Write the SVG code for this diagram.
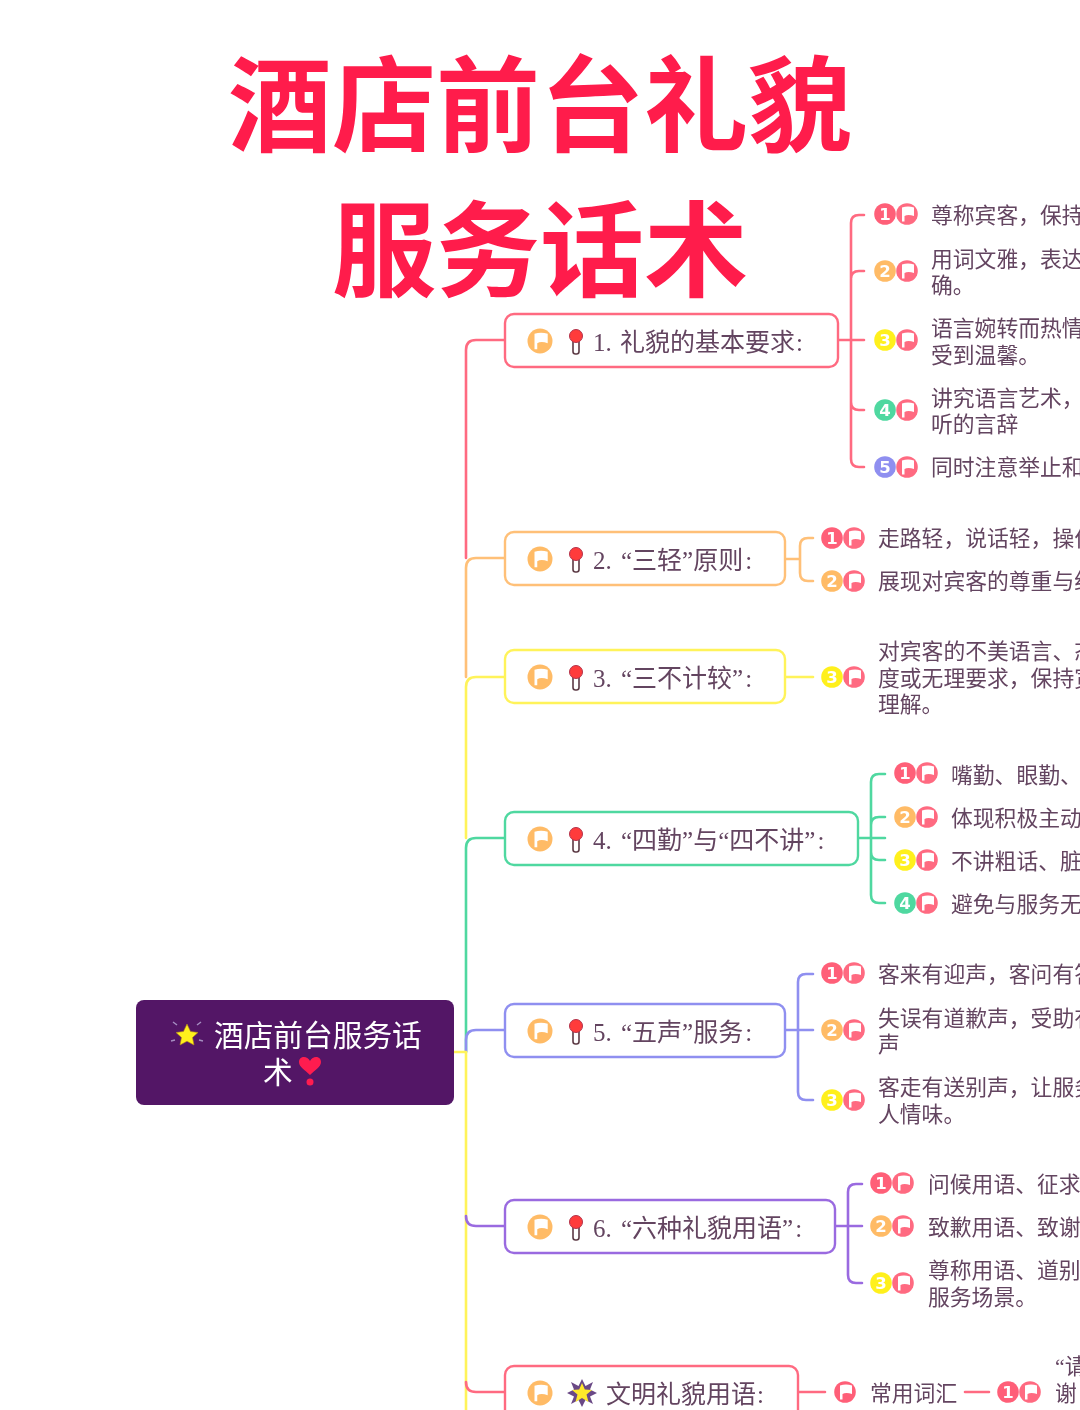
<svg xmlns="http://www.w3.org/2000/svg" width="1080" height="1410" viewBox="0 0 1080 1410">
<style>
text{font-family:"Noto Sans CJK SC","Noto Sans",sans-serif}
.title{font-size:104px;font-weight:700;fill:#ff1a4b;text-anchor:middle}
.node{fill:#fff;stroke-width:2.4}
.lab{font-family:"Liberation Serif","Noto Sans CJK SC",serif;font-size:25px;fill:#644460}
.t{font-size:21.8px;fill:#644460}
.q{font-family:"Liberation Serif",serif}
.c{fill:none;stroke-width:2.6;stroke-linecap:round;stroke-linejoin:round}
.n{font-family:"DejaVu Sans",sans-serif;font-size:16.500px;font-weight:700;fill:#fff;text-anchor:middle}
.red{stroke:#ff6b81}.org{stroke:#ffc078}.yel{stroke:#fff35a}.grn{stroke:#4fd8a0}.per{stroke:#8f8ff0}.pur{stroke:#9a6be0}
.fr{fill:#ff5f78}.fo{fill:#ffbb66}.fy{fill:#fff01f}.fg{fill:#4fd8a0}.fp{fill:#8f8ff0}
</style>
<defs>
<filter id="soft" x="0" y="0" width="100%" height="100%"><feGaussianBlur stdDeviation="0.45"/></filter>
<g id="flag"><path d="M-5-6.500Q1-8.500 7-6.500V2Q1 0-2.500 2V7.500H-5Z" fill="#fff"/></g>
<g id="ff"><circle r="10.800" fill="#ff6b81"/><use href="#flag"/></g>
<g id="of"><circle r="12.500" fill="#ffbb66"/><use href="#flag" transform="scale(1.100)"/></g>
<g id="pin"><rect x="-3" y="-3" width="6" height="16" rx="2.500" fill="#fff" stroke="#5c3a45" stroke-width="1.600"/><circle cy="-5" r="6.500" fill="#ff3b3b" stroke="#b3324a" stroke-width="1"/></g>
</defs>
<rect width="1080" height="1410" fill="#fff"/>
<g filter="url(#soft)">
<g id="title">
<text class="title" x="540" y="144">酒店前台礼貌</text>
<text class="title" x="540" y="289">服务话术</text>
</g>
<g id="connectors">
<path class="c red" d="M505 340H476Q466 340 466 350V558"/>
<path class="c org" d="M505 558H476Q466 558 466 568V677"/>
<path class="c yel" d="M505 677H476Q466 677 466 687V838"/>
<path class="c grn" d="M505 838H476Q466 838 466 848V1052"/>
<path class="c per" d="M505 1030H476Q466 1030 466 1040V1052"/>
<path class="c yel" d="M454 1052H466V1410"/>
<path class="c pur" d="M505 1226H476Q466 1226 466 1216"/>
<path class="c red" d="M505 1392H476Q466 1392 466 1382"/>
<path class="c red" d="M864 215H859Q851 215 851 223V459Q851 467 859 467H864M864 271H859Q851 271 851 279M851 402Q851 410 859 410H864M838 340H864"/>
<path class="c org" d="M813 538H808Q800 538 800 546V573Q800 581 808 581H813M785 559H800"/>
<path class="c yel" d="M785 677H813"/>
<path class="c grn" d="M885 774H879Q871 774 871 782V895Q871 903 879 903H885M885 817H879Q871 817 871 825M871 852Q871 860 879 860H885M858 838H885"/>
<path class="c per" d="M813 974H806Q798 974 798 982V1092Q798 1100 806 1100H813M785 1030H813"/>
<path class="c pur" d="M862 1184H856Q848 1184 848 1192V1275Q848 1283 856 1283H862M835 1226H862"/>
<path class="c red" d="M798 1392H825M965 1392H989"/>
</g>
<g id="root">
<rect x="136" y="1000" width="318" height="105" rx="8" fill="#521766"/>
<g transform="translate(187 1035)"><path d="M-10-10-14-13M10-10 14-13M-12 5-16 6M12 5 16 6" stroke="#a58cc0" stroke-width="1.500"/><path d="M0-11 3.500-3.500 11-2.500 5.500 2.500 7 10 0 6.200-7 10-5.500 2.500-11-2.500-3.500-3.500Z" fill="#fff01f" stroke="#b38a1a" stroke-width=".6"/></g>
<text x="214" y="1046" font-size="29.7" fill="#fff">酒店前台服务话</text>
<text x="263" y="1083" font-size="29.7" fill="#fff">术</text>
<g fill="#ff1f4f"><path d="M310 1075C305 1070 299 1067 299 1062 299 1056 307 1055 310 1061 313 1055 321 1056 321 1062 321 1067 315 1070 310 1075Z"/><circle cx="310" cy="1082" r="3.500"/></g>
</g>
<g id="n1">
<rect class="node red" x="505" y="314" width="333" height="53" rx="9"/>
<use href="#of" x="540" y="341"/><use href="#pin" x="576" y="341"/>
<text class="lab" x="593" y="351">1.<tspan x="620">礼貌的基本要求</tspan><tspan dx="1">:</tspan></text>
</g>
<g id="n1-1"><circle class="fr" cx="885" cy="214" r="10.800"/><text class="n" x="885" y="220">1</text><use href="#ff" x="907" y="214"/><text class="t" x="931" y="223">尊称宾客，保持</text></g>
<g id="n1-2"><circle class="fo" cx="885" cy="271" r="10.800"/><text class="n" x="885" y="277">2</text><use href="#ff" x="907" y="271"/><text class="t" x="931" y="267">用词文雅，表达</text><text class="t" x="931" y="293">确。</text></g>
<g id="n1-3"><circle class="fy" cx="885" cy="340" r="10.800"/><text class="n" x="885" y="346">3</text><use href="#ff" x="907" y="340"/><text class="t" x="931" y="336">语言婉转而热情</text><text class="t" x="931" y="363">受到温馨。</text></g>
<g id="n1-4"><circle class="fg" cx="885" cy="410" r="10.800"/><text class="n" x="885" y="416">4</text><use href="#ff" x="907" y="410"/><text class="t" x="931" y="406">讲究语言艺术，</text><text class="t" x="931" y="432">听的言辞</text></g>
<g id="n1-5"><circle class="fp" cx="885" cy="467" r="10.800"/><text class="n" x="885" y="473">5</text><use href="#ff" x="907" y="467"/><text class="t" x="931" y="475">同时注意举止和</text></g>
<g id="n2">
<rect class="node org" x="505" y="532" width="280" height="53" rx="9"/>
<use href="#of" x="540" y="559"/><use href="#pin" x="576" y="559"/>
<text class="lab" x="593" y="569">2. <tspan dx="3">“三轻”原则</tspan><tspan dx="2">:</tspan></text>
</g>
<g id="n2-1"><circle class="fr" cx="832" cy="538" r="10.800"/><text class="n" x="832" y="544">1</text><use href="#ff" x="854" y="538"/><text class="t" x="878" y="546">走路轻，说话轻，操作</text></g>
<g id="n2-2"><circle class="fo" cx="832" cy="581" r="10.800"/><text class="n" x="832" y="587">2</text><use href="#ff" x="854" y="581"/><text class="t" x="878" y="589">展现对宾客的尊重与细</text></g>
<g id="n3">
<rect class="node yel" x="505" y="650" width="280" height="53" rx="9"/>
<use href="#of" x="540" y="677"/><use href="#pin" x="576" y="677"/>
<text class="lab" x="593" y="687">3. <tspan dx="3">“三不计较”</tspan><tspan dx="2">:</tspan></text>
</g>
<g id="n3-1"><circle class="fy" cx="832" cy="677" r="10.800"/><text class="n" x="832" y="683">3</text><use href="#ff" x="854" y="677"/><text class="t" x="878" y="659">对宾客的不美语言、态</text><text class="t" x="878" y="686">度或无理要求，保持宽</text><text class="t" x="878" y="712">理解。</text></g>
<g id="n4">
<rect class="node grn" x="505" y="812" width="353" height="53" rx="9"/>
<use href="#of" x="540" y="839"/><use href="#pin" x="576" y="839"/>
<text class="lab" x="593" y="849">4. <tspan dx="3">“四勤”与“四不讲”</tspan><tspan dx="2">:</tspan></text>
</g>
<g id="n4-1"><circle class="fr" cx="905" cy="773" r="10.800"/><text class="n" x="905" y="779">1</text><use href="#ff" x="927" y="773"/><text class="t" x="951" y="783">嘴勤、眼勤、</text></g>
<g id="n4-2"><circle class="fo" cx="905" cy="817" r="10.800"/><text class="n" x="905" y="823">2</text><use href="#ff" x="927" y="817"/><text class="t" x="951" y="826">体现积极主动</text></g>
<g id="n4-3"><circle class="fy" cx="905" cy="860" r="10.800"/><text class="n" x="905" y="866">3</text><use href="#ff" x="927" y="860"/><text class="t" x="951" y="869">不讲粗话、脏</text></g>
<g id="n4-4"><circle class="fg" cx="905" cy="903" r="10.800"/><text class="n" x="905" y="909">4</text><use href="#ff" x="927" y="903"/><text class="t" x="951" y="912">避免与服务无</text></g>
<g id="n5">
<rect class="node per" x="505" y="1004" width="280" height="53" rx="9"/>
<use href="#of" x="540" y="1031"/><use href="#pin" x="576" y="1031"/>
<text class="lab" x="593" y="1041">5. <tspan dx="3">“五声”服务</tspan><tspan dx="2">:</tspan></text>
</g>
<g id="n5-1"><circle class="fr" cx="832" cy="973" r="10.800"/><text class="n" x="832" y="979">1</text><use href="#ff" x="854" y="973"/><text class="t" x="878" y="982">客来有迎声，客问有答</text></g>
<g id="n5-2"><circle class="fo" cx="832" cy="1030" r="10.800"/><text class="n" x="832" y="1036">2</text><use href="#ff" x="854" y="1030"/><text class="t" x="878" y="1026">失误有道歉声，受助有</text><text class="t" x="878" y="1052">声</text></g>
<g id="n5-3"><circle class="fy" cx="832" cy="1100" r="10.800"/><text class="n" x="832" y="1106">3</text><use href="#ff" x="854" y="1100"/><text class="t" x="878" y="1095">客走有送别声，让服务</text><text class="t" x="878" y="1122">人情味。</text></g>
<g id="n6">
<rect class="node pur" x="505" y="1200" width="330" height="53" rx="9"/>
<use href="#of" x="540" y="1227"/><use href="#pin" x="576" y="1227"/>
<text class="lab" x="593" y="1237">6. <tspan dx="3">“六种礼貌用语”</tspan><tspan dx="2">:</tspan></text>
</g>
<g id="n6-1"><circle class="fr" cx="881" cy="1183" r="10.800"/><text class="n" x="881" y="1189">1</text><use href="#ff" x="903" y="1183"/><text class="t" x="928" y="1192">问候用语、征求</text></g>
<g id="n6-2"><circle class="fo" cx="881" cy="1226" r="10.800"/><text class="n" x="881" y="1232">2</text><use href="#ff" x="903" y="1226"/><text class="t" x="928" y="1235">致歉用语、致谢</text></g>
<g id="n6-3"><circle class="fy" cx="881" cy="1283" r="10.800"/><text class="n" x="881" y="1289">3</text><use href="#ff" x="903" y="1283"/><text class="t" x="928" y="1278">尊称用语、道别</text><text class="t" x="928" y="1305">服务场景。</text></g>
<g id="n7">
<rect class="node red" x="505" y="1366" width="293" height="60" rx="9"/>
<use href="#of" x="540" y="1393"/>
<g transform="translate(582 1393)"><path d="M0-14 3.500-7 11-11 8-3.500 15 0 8 3.500 11 11 3.500 7 0 14-3.500 7-11 11-8 3.500-15 0-8-3.500-11-11-3.500-7Z" fill="#6b4a86"/><path d="M0-10 2.800-3.500 10-3 4.500 1.500 6.500 9 0 5-6.500 9-4.500 1.500-10-3-2.800-3.500Z" fill="#ffe92b"/></g>
<text class="lab" x="606" y="1403">文明礼貌用语<tspan dx="1">:</tspan></text>
</g>
<g id="n7-1"><circle class="fr" cx="845" cy="1392" r="10.800"/><use href="#flag" x="845" y="1392"/><text class="t" x="870" y="1401">常用词汇</text></g>
<g id="n7-2"><circle class="fr" cx="1008" cy="1392" r="10.800"/><text class="n" x="1008" y="1398">1</text><use href="#ff" x="1030" y="1392"/><text class="t" x="1055" y="1374"><tspan class="q">“</tspan>请</text><text class="t" x="1055" y="1401">谢</text></g>
</g>
</svg>
